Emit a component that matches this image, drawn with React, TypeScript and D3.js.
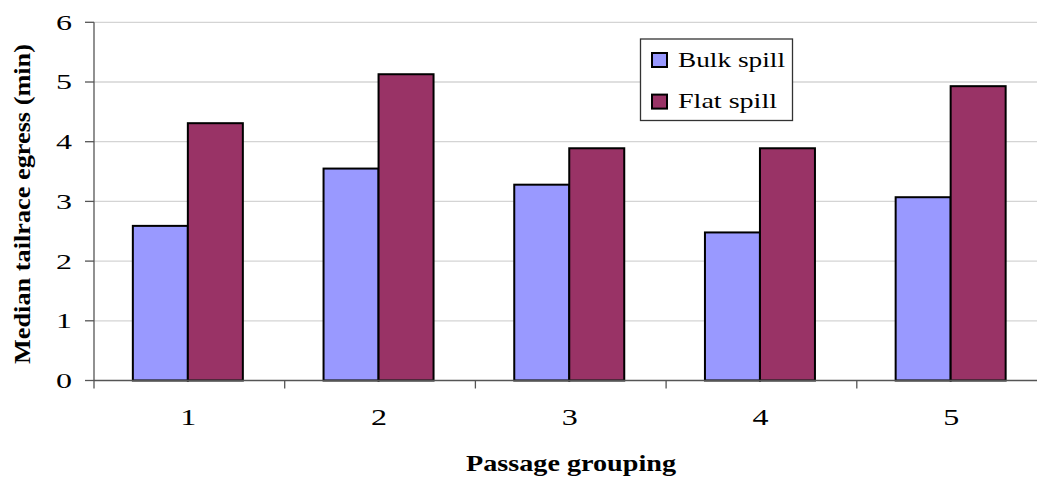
import React from "react";
import * as d3 from "d3";

const categories = ["1", "2", "3", "4", "5"];
const bulkSpill = [2.59, 3.55, 3.28, 2.48, 3.07];
const flatSpill = [4.31, 5.13, 3.89, 3.89, 4.93];
const seriesNames = ["Bulk spill", "Flat spill"];
const seriesColors = ["#9999FF", "#993366"];
const yTicks = [0, 1, 2, 3, 4, 5, 6];

const W = 1037;
const H = 481;
const margin = { left: 94, top: 22.3, right: -10.5, bottom: 100.5 };
const txt = { fontFamily: "Liberation Serif" };

export default function App() {
  const x0 = margin.left;
  const x1 = W - margin.right;
  const y0 = H - margin.bottom;
  const yTop = margin.top;

  const x = d3.scaleBand<string>().domain(categories).range([x0, x1]);
  const y = d3.scaleLinear().domain([0, 6]).range([y0, yTop]);
  const barW = 55;
  const series = [bulkSpill, flatSpill];
  const legendWidths = [107, 99];

  return (
    <svg
      width={W}
      height={H}
      style={{ position: "absolute", left: 0, top: 0, background: "#fff" }}
    >
      {/* horizontal gridlines */}
      {yTicks.filter((t) => t > 0).map((t) => (
        <line key={"g" + t} x1={x0} x2={x1} y1={y(t)} y2={y(t)} stroke="#d4d4d4" strokeWidth={1.3} />
      ))}

      {/* bars */}
      {categories.map((c, i) => {
        const cx = (x(c) as number) + x.bandwidth() / 2;
        return series.map((s, k) => (
          <rect
            key={c + "-" + k}
            x={cx - barW - 1.5 + k * barW}
            y={y(s[i])}
            width={barW}
            height={y0 - y(s[i])}
            fill={seriesColors[k]}
            stroke="#000"
            strokeWidth={2}
          />
        ));
      })}

      {/* y axis */}
      <line x1={x0} x2={x0} y1={yTop} y2={y0} stroke="#555" strokeWidth={1.3} />
      {yTicks.map((t) => (
        <g key={"y" + t}>
          <line x1={x0 - 9} x2={x0} y1={y(t)} y2={y(t)} stroke="#555" strokeWidth={1.3} />
          <text
            x={56}
            y={y(t)}
            dy="0.34em"
            fontSize={22}
            textLength={16}
            lengthAdjust="spacingAndGlyphs"
            fill="#000"
            style={txt}
          >
            {t}
          </text>
        </g>
      ))}

      {/* x axis */}
      <line x1={x0} x2={x1} y1={y0} y2={y0} stroke="#555" strokeWidth={1.3} />
      {[...categories.map((c) => x(c) as number), x1].map((v, i) => (
        <line key={"xt" + i} x1={v} x2={v} y1={y0} y2={y0 + 8} stroke="#555" strokeWidth={1.3} />
      ))}
      {categories.map((c) => (
        <text
          key={"xl" + c}
          x={(x(c) as number) + x.bandwidth() / 2 - 9}
          y={425}
          fontSize={23}
          textLength={16}
          lengthAdjust="spacingAndGlyphs"
          fill="#000"
          style={txt}
        >
          {c}
        </text>
      ))}

      {/* axis titles */}
      <text
        x={466}
        y={471}
        fontSize={23}
        fontWeight="bold"
        textLength={210}
        lengthAdjust="spacingAndGlyphs"
        fill="#000"
        style={txt}
      >
        Passage grouping
      </text>
      <text
        transform="translate(30, 364) rotate(-90)"
        x={0}
        y={0}
        fontSize={23}
        fontWeight="bold"
        textLength={320}
        lengthAdjust="spacingAndGlyphs"
        fill="#000"
        style={txt}
      >
        Median tailrace egress (min)
      </text>

      {/* legend */}
      <rect x={640.5} y={39} width={152} height={81.5} fill="#fff" stroke="#333" strokeWidth={1.3} />
      {seriesNames.map((n, k) => (
        <g key={"lg" + k}>
          <rect x={652} y={53 + k * 41.6} width={15} height={14} fill={seriesColors[k]} stroke="#000" strokeWidth={2} />
          <text
            x={678}
            y={66.7 + k * 41.6}
            fontSize={22}
            textLength={legendWidths[k]}
            lengthAdjust="spacingAndGlyphs"
            fill="#000"
            style={txt}
          >
            {n}
          </text>
        </g>
      ))}
    </svg>
  );
}
